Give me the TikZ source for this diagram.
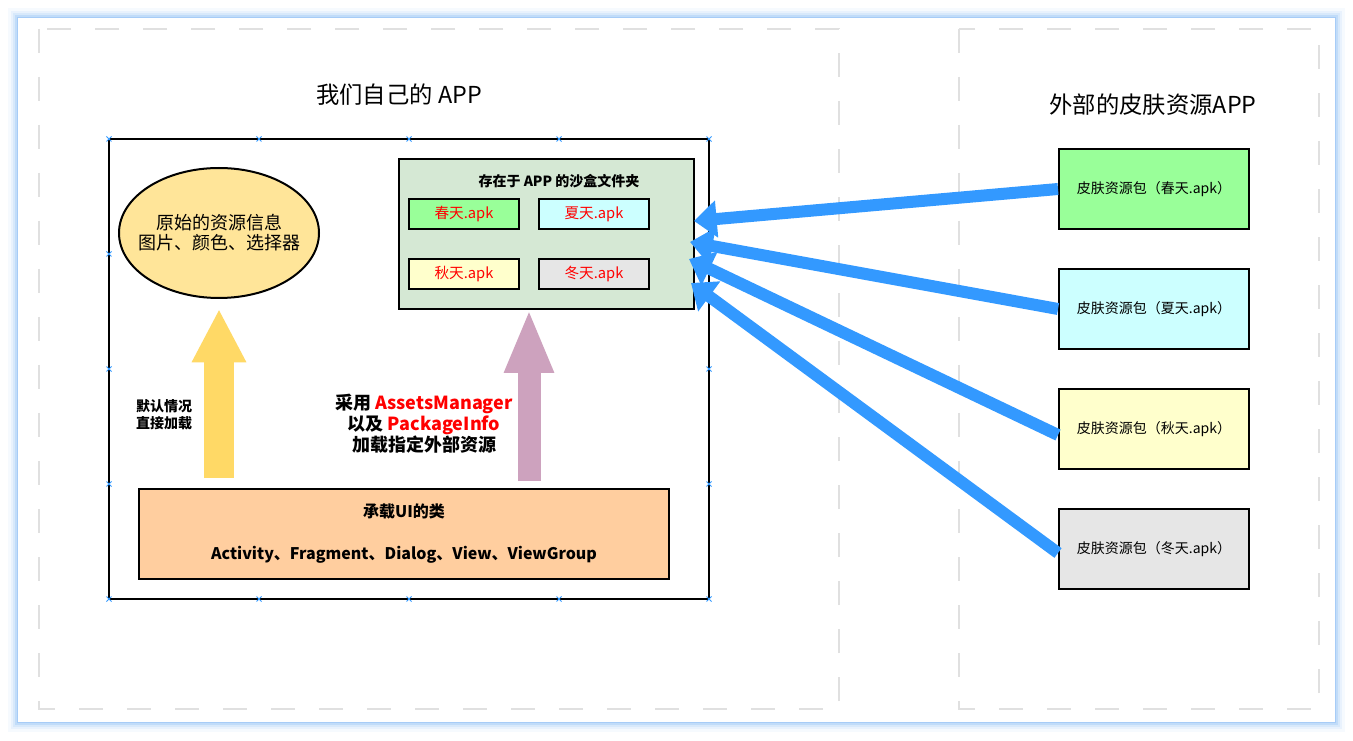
\documentclass[tikz,border=0pt]{standalone}
\usepackage{fontspec}
\setmainfont{Noto Sans CJK SC}
\usetikzlibrary{shapes.geometric,arrows.meta,positioning}
\definecolor{glow}{HTML}{8CBDF4}
\definecolor{dashgray}{HTML}{E0E0E0}
\definecolor{sandgreen}{HTML}{D5E8D4}
\definecolor{springc}{HTML}{99FF99}
\definecolor{summerc}{HTML}{CCFFFF}
\definecolor{autumnc}{HTML}{FFFFCC}
\definecolor{winterc}{HTML}{E6E6E6}
\definecolor{origc}{HTML}{FFE599}
\definecolor{uic}{HTML}{FFCE9F}
\definecolor{yarrow}{HTML}{FFD966}
\definecolor{parrow}{HTML}{CDA2BE}
\definecolor{skinblue}{HTML}{3399FF}
\tikzstyle{apk}=[rectangle, draw, line width=1.5pt, minimum width=82.5pt,
minimum height=22.5pt, inner sep=0pt, text=red, font=\fontsize{11}{13}\selectfont]
\tikzstyle{skin}=[rectangle, draw, line width=1.5pt, minimum width=142.5pt,
minimum height=60pt, inner sep=0pt, font=\fontsize{10.5}{12}\selectfont]
\tikzstyle{pull}=[draw=skinblue, line width=9pt, -{Triangle[length=17pt,width=27pt]}]
\tikzstyle{dashbox}=[draw=dashgray, line width=1.5pt, dash pattern=on 18pt off 18pt]
\tikzstyle{ttl}=[font=\fontsize{17.5}{21}\selectfont]

\begin{document}
\begin{tikzpicture}[x=0.75pt,y=-0.75pt]
\useasboundingbox (0,0) rectangle (1353,741);
% frame with blue glow
\foreach \w/\o in {15/0.08,11/0.12,7/0.18,4/0.3,2/0.5}
  \draw[glow, line width=\w pt, opacity=\o] (18,18) rectangle (1335,722);
\fill[white] (18,18) rectangle (1335,722);
\draw[dashbox] (39,29) rectangle (839,709);
\draw[dashbox] (959,29) rectangle (1319,709);

\node[ttl] (t1) at (399,95) {我们自己的 APP};
\node[ttl] (t2) at (1153,105) {外部的皮肤资源APP};

% our app
\node[rectangle, draw, line width=1.5pt, minimum width=450pt, minimum height=345pt,
  inner sep=0pt] (app) at (409,369) {};
\foreach \x in {109,259,409,559,709}
  \foreach \y in {139,599}
    \draw[skinblue, line width=0.6pt] (\x-2.5,\y-2.5) -- (\x+2.5,\y+2.5)
      (\x-2.5,\y+2.5) -- (\x+2.5,\y-2.5);
\foreach \y in {254,369,484}
  \foreach \x in {109,709}
    \draw[skinblue, line width=0.6pt] (\x-2.5,\y-2.5) -- (\x+2.5,\y+2.5)
      (\x-2.5,\y+2.5) -- (\x+2.5,\y-2.5);

\node[ellipse, draw, line width=1.5pt, fill=origc, minimum width=150pt,
  minimum height=97.5pt, inner xsep=-8pt, inner ysep=0pt, align=center,
  font=\fontsize{13.5}{15}\selectfont] (orig) at (219,233)
  {原始的资源信息\\图片、颜色、选择器};

\node[rectangle, draw, line width=1.5pt, fill=sandgreen, minimum width=221.25pt,
  minimum height=112.5pt, inner sep=0pt] (sand) at (546.5,234) {};
\node[font=\fontsize{10.5}{12}\selectfont\bfseries] (sandt) at (559,181)
  {存在于 APP 的沙盒文件夹};
\node[apk, fill=springc] (a1) at (464,214) {春天.apk};
\node[apk, fill=summerc] (a2) at (594,214) {夏天.apk};
\node[apk, fill=autumnc] (a3) at (464,274) {秋天.apk};
\node[apk, fill=winterc] (a4) at (594,274) {冬天.apk};

\node[rectangle, draw, line width=1.5pt, fill=uic, minimum width=397.5pt,
  minimum height=67.5pt, inner sep=0pt, align=center,
  font=\fontsize{12}{14.5}\selectfont\bfseries] (ui) at (404,534)
  {承载UI的类\\[17pt]Activity、Fragment、Dialog、View、ViewGroup};

% loading arrows
\coordinate (y0) at (219,478);
\coordinate (y1) at (219,309);
\coordinate (p0) at (529,481);
\coordinate (p1) at (529,309);
\draw[yarrow, line width=22.5pt, -{Triangle[length=40pt,width=38pt]}] (y0) -- (y1);
\draw[parrow, line width=17.25pt, -{Triangle[length=48pt,width=34pt]}] (p0) -- (p1);

\node[align=center, font=\fontsize{10.5}{12.5}\selectfont\bfseries] (dflt)
  at (164,415) {默认情况\\直接加载};
\node[align=center, font=\fontsize{13.5}{15.75}\selectfont\bfseries] (ext)
  at (424,424) {采用 {\color{red}AssetsManager}\\以及 {\color{red}PackageInfo}\\加载指定外部资源};

% skin packages
\node[skin, fill=springc] (s1) at (1154,189) {皮肤资源包（春天.apk）};
\node[skin, fill=summerc] (s2) at (1154,309) {皮肤资源包（夏天.apk）};
\node[skin, fill=autumnc] (s3) at (1154,429) {皮肤资源包（秋天.apk）};
\node[skin, fill=winterc] (s4) at (1154,549) {皮肤资源包（冬天.apk）};

\coordinate (k1) at (694,221);
\coordinate (k2) at (690,242);
\coordinate (k3) at (689,259);
\coordinate (k4) at (691,283);
\draw[pull] (s1.west) -- (k1);
\draw[pull] (s2.west) -- (k2);
\draw[pull] ([yshift=-4.5pt]s3.west) -- (k3);
\draw[pull] ([yshift=-3pt]s4.west) -- (k4);
\end{tikzpicture}
\end{document}
